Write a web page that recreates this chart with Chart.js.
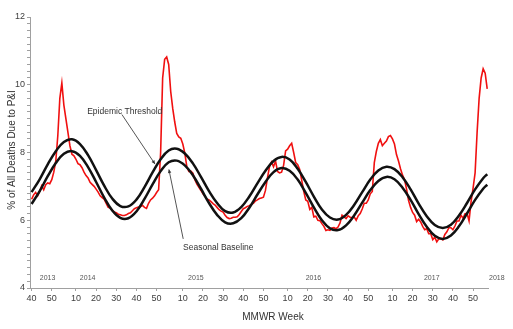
<!DOCTYPE html>
<html>
<head>
<meta charset="utf-8">
<script src="https://cdn.jsdelivr.net/npm/chart.js@4"></script>
<style>
  body { margin: 0; background: #fff; }
  #caja { width: 513px; height: 329px; }
</style>
</head>
<body>
<div id="caja"><canvas id="grafica"></canvas></div>
<script>
// weekly % of deaths due to P&I, index 0 = MMWR week 40 of 2013
const observado = [
  6.62, 6.75, 6.82, 6.72, 6.85, 7.02, 6.9, 7.05, 7.1, 7.08,
  7.2, 7.42, 7.75, 8.5, 9.6, 10.05, 9.4, 9.0, 8.6, 8.2,
  7.95, 7.9, 7.8, 7.67, 7.64, 7.55, 7.42, 7.32, 7.25, 7.12,
  7.06, 7.0, 6.92, 6.83, 6.72, 6.67, 6.62, 6.5, 6.38, 6.36,
  6.3, 6.24, 6.22, 6.18, 6.16, 6.14, 6.14, 6.16, 6.2, 6.22,
  6.28, 6.34, 6.37, 6.39, 6.4, 6.44, 6.38, 6.35, 6.5, 6.6,
  6.65, 6.72, 6.82, 6.9, 8.0, 10.2, 10.75, 10.82, 10.6, 9.8,
  9.3, 8.9, 8.56, 8.46, 8.42, 8.25, 7.98, 7.58, 7.44, 7.45,
  7.39, 7.2, 7.07, 6.97, 6.88, 6.78, 6.7, 6.63, 6.6, 6.55,
  6.49, 6.45, 6.38, 6.31, 6.27, 6.24, 6.15, 6.08, 6.05, 6.06,
  6.09, 6.09, 6.1, 6.17, 6.26, 6.34, 6.37, 6.41, 6.43, 6.47,
  6.5, 6.57, 6.6, 6.64, 6.66, 6.68, 6.88, 7.25, 7.58, 7.72,
  7.58, 7.75, 7.44, 7.4, 7.42, 7.62, 8.05, 8.1, 8.2, 8.27,
  8.0, 7.7, 7.64, 7.5, 7.18, 6.85, 6.6, 6.56, 6.32, 6.38,
  6.1, 6.12, 6.0, 5.99, 5.9, 5.82, 5.7, 5.72, 5.7, 5.77,
  5.78, 5.75, 5.8, 5.92, 6.15, 6.1, 6.05, 6.13, 6.09, 6.08,
  6.1, 6.0, 6.13, 6.2, 6.33, 6.5, 6.5, 6.6, 6.78, 6.85,
  7.7, 8.03, 8.27, 8.38, 8.2, 8.27, 8.34, 8.47, 8.5, 8.4,
  8.25, 7.94, 7.75, 7.52, 7.33, 7.2, 6.92, 6.58, 6.38, 6.23,
  6.15, 5.96, 6.03, 5.95, 5.82, 5.72, 5.75, 5.6, 5.6, 5.43,
  5.5, 5.36, 5.45, 5.45, 5.42, 5.58, 5.66, 5.78, 5.78, 5.72,
  5.83, 5.98, 5.98, 6.15, 6.06, 6.19, 6.2, 5.98, 6.55, 6.95,
  7.4, 8.6, 9.6, 10.2, 10.47, 10.34, 9.88
];

// baseline and threshold, read every 4 weeks
const semanasCurva = [
  0, 4, 8, 12, 16, 20, 24, 28, 32, 36,
  40, 44, 48, 52, 56, 60, 64, 68, 72, 76,
  80, 84, 88, 92, 96, 100, 104, 108, 112, 116,
  120, 124, 128, 132, 136, 140, 144, 148, 152, 156,
  160, 164, 168, 172, 176, 180, 184, 188, 192, 196,
  200, 204, 208, 212, 216, 220, 224, 226
];
const linea_base = [
  6.48, 6.86, 7.30, 7.69, 7.96, 8.04, 7.90, 7.57, 7.13, 6.67,
  6.29, 6.07, 6.06, 6.26, 6.63, 7.06, 7.45, 7.71, 7.76, 7.62,
  7.33, 6.93, 6.51, 6.16, 5.94, 5.91, 6.06, 6.37, 6.76, 7.13,
  7.42, 7.54, 7.46, 7.20, 6.81, 6.38, 6.00, 5.76, 5.71, 5.85,
  6.14, 6.52, 6.89, 7.16, 7.28, 7.21, 6.96, 6.60, 6.18, 5.81,
  5.54, 5.45, 5.55, 5.82, 6.20, 6.60, 6.93, 7.05
];
const umbral = [
  6.83, 7.21, 7.65, 8.04, 8.31, 8.39, 8.25, 7.92, 7.48, 7.02,
  6.64, 6.42, 6.41, 6.61, 6.98, 7.41, 7.80, 8.06, 8.11, 7.97,
  7.68, 7.28, 6.86, 6.51, 6.27, 6.23, 6.39, 6.70, 7.09, 7.46,
  7.75, 7.87, 7.79, 7.52, 7.13, 6.70, 6.32, 6.08, 6.02, 6.16,
  6.45, 6.83, 7.20, 7.47, 7.58, 7.51, 7.27, 6.91, 6.49, 6.12,
  5.86, 5.77, 5.87, 6.14, 6.51, 6.91, 7.24, 7.36
];

// x axis ticks (week index -> MMWR week)
const tickSemana = [0, 10, 22, 32, 42, 52, 62, 75, 85, 95, 105, 115, 127, 137, 147, 157, 167, 179, 189, 199, 209, 219];
const tickTexto = ["40", "50", "10", "20", "30", "40", "50", "10", "20", "30", "40", "50", "10", "20", "30", "40", "50", "10", "20", "30", "40", "50"];

const anios = ["2013", "2014", "2015", "2016", "2017", "2018"];
const anioSemana = [7.9, 27.8, 81.5, 139.8, 198.5, 230.8];

const FUENTE = '"Liberation Sans", Arial, sans-serif';

// textos y flechas
const notas = [
  { texto: "Epidemic Threshold", en: [46.2, 9.2], desde: [44.8, 9.12], hasta: [61.2, 7.66] },
  { texto: "Seasonal Baseline", en: [92.6, 5.19], desde: [75.2, 5.45], hasta: [68.1, 7.5] },
];

const extras = {
  id: "extras",
  afterDraw(chart) {
    const ctx = chart.ctx;
    const sx = chart.scales.x;
    const sy = chart.scales.y;
    ctx.save();

    // years inside the plot
    ctx.font = "7px " + FUENTE;
    ctx.fillStyle = "#555";
    ctx.textAlign = "center";
    ctx.textBaseline = "middle";
    anios.forEach((t, k) => {
      ctx.fillText(t, sx.getPixelForValue(anioSemana[k]), sy.bottom - 10);
    });

    // annotations
    ctx.font = "8.5px " + FUENTE;
    ctx.fillStyle = "#333";
    ctx.strokeStyle = "#555";
    ctx.lineWidth = 1;
    notas.forEach((n) => {
      ctx.fillText(n.texto, sx.getPixelForValue(n.en[0]), sy.getPixelForValue(n.en[1]));
      let x1 = sx.getPixelForValue(n.desde[0]);
      let y1 = sy.getPixelForValue(n.desde[1]);
      let x2 = sx.getPixelForValue(n.hasta[0]);
      let y2 = sy.getPixelForValue(n.hasta[1]);
      ctx.beginPath();
      ctx.moveTo(x1, y1);
      ctx.lineTo(x2, y2);
      ctx.stroke();
      let ang = Math.atan2(y2 - y1, x2 - x1);
      ctx.beginPath();
      ctx.moveTo(x2, y2);
      ctx.lineTo(x2 - 4 * Math.cos(ang - 0.45), y2 - 4 * Math.sin(ang - 0.45));
      ctx.lineTo(x2 - 4 * Math.cos(ang + 0.45), y2 - 4 * Math.sin(ang + 0.45));
      ctx.closePath();
      ctx.fillStyle = "#333";
      ctx.fill();
    });

    // axis titles
    ctx.font = "10px " + FUENTE;
    ctx.fillStyle = "#333";
    ctx.fillText("MMWR Week", 273, 317);
    ctx.translate(12, 150);
    ctx.rotate(-Math.PI / 2);
    ctx.fillText("% of All Deaths Due to P&I", 0, 0);
    ctx.restore();
  },
};

function grafica(id) {
  let puntos = observado.map((v, i) => ({ x: i, y: v }));
  let base = semanasCurva.map((s, k) => ({ x: s, y: linea_base[k] }));
  let limite = semanasCurva.map((s, k) => ({ x: s, y: umbral[k] }));

  return new Chart(id, {
    type: "line",
    data: {
      datasets: [
        {
          label: "Epidemic Threshold",
          data: limite,
          borderColor: "#111",
          borderWidth: 2.5,
          pointRadius: 0,
          tension: 0.4,
        },
        {
          label: "Seasonal Baseline",
          data: base,
          borderColor: "#111",
          borderWidth: 2.5,
          pointRadius: 0,
          tension: 0.4,
        },
        {
          label: "% P&I",
          data: puntos,
          borderColor: "#f01010",
          borderWidth: 1.6,
          pointRadius: 0,
          tension: 0,
        },
      ],
    },
    options: {
      responsive: true,
      maintainAspectRatio: false,
      animation: false,
      layout: { padding: { top: 17, right: 25, left: 0, bottom: 0 } },
      plugins: {
        legend: { display: false },
        tooltip: { enabled: false },
      },
      scales: {
        x: {
          type: "linear",
          min: -0.8,
          max: 226.4,
          afterBuildTicks: (scale) => {
            scale.ticks = tickSemana.map((v) => ({ value: v }));
          },
          afterFit: (scale) => {
            scale.height = 41;
          },
          ticks: {
            autoSkip: false,
            maxRotation: 0,
            padding: 2,
            color: "#404040",
            font: { family: FUENTE, size: 9 },
            callback: (v) => {
              let k = tickSemana.indexOf(v);
              return k >= 0 ? tickTexto[k] : "";
            },
          },
          grid: { drawOnChartArea: false, tickLength: 3, color: "#a0a0a0" },
          border: { color: "#a0a0a0" },
        },
        y: {
          min: 4,
          max: 12,
          afterFit: (scale) => {
            scale.width = 30;
          },
          ticks: {
            stepSize: 0.2,
            autoSkip: false,
            padding: 2,
            color: "#404040",
            font: { family: FUENTE, size: 9 },
            callback: (v) => {
              let r = Math.round(v);
              if (Math.abs(v - r) < 0.001 && r % 2 === 0) return String(r);
              return "";
            },
          },
          grid: { drawOnChartArea: false, tickLength: 3, color: "#a0a0a0" },
          border: { color: "#a0a0a0" },
        },
      },
    },
    plugins: [extras],
  });
}

grafica(document.getElementById("grafica"));
</script>
</body>
</html>
